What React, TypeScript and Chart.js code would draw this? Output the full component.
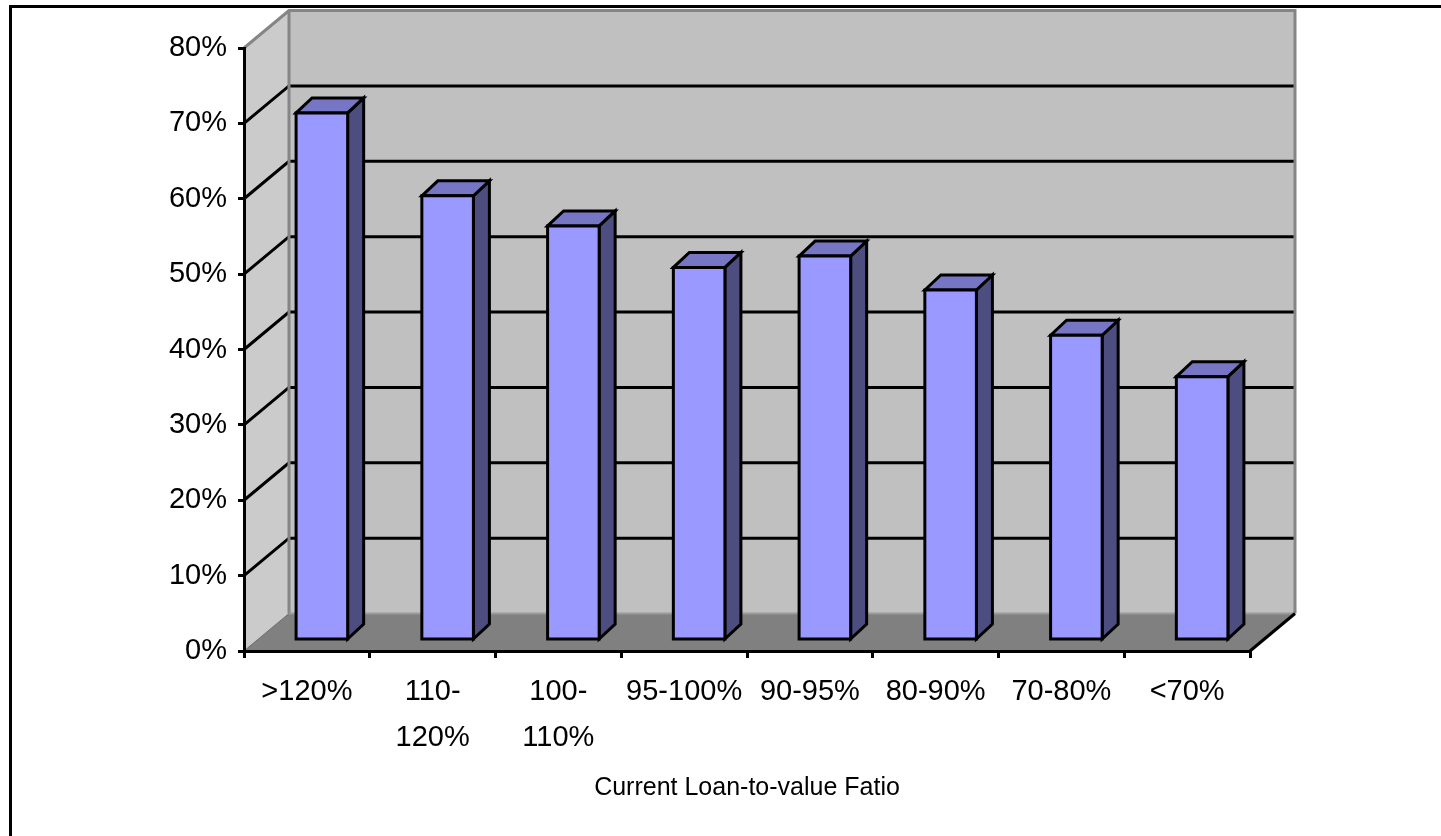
import React, { useEffect, useRef } from "react";
import { Chart, registerables } from "chart.js";

Chart.register(...registerables);

const categories: (string | string[])[] = [">120%", ["110-", "120%"], ["100-", "110%"], "95-100%", "90-95%", "80-90%", "70-80%", "<70%"];
const shareValues = [70, 59, 55, 49.5, 51, 46.5, 40.5, 35];
const yMin = 0;
const yMax = 80;
const yStep = 10;
const axisTitle = "Current Loan-to-value Fatio";

const FONT = "'Liberation Sans', Arial, sans-serif";

// projection of the 3D box
const DX = 45;
const DY = -37.5;
const BAR_SHIFT_X = 15;
const BAR_SHIFT_Y = -10.5;
const BDX = 16;
const BDY = -15;
const LW = 3;

const threeD = {
  id: "threeD",
  beforeDraw(chart: any) {
    const { ctx, chartArea } = chart;
    const ys = chart.scales.y;
    const L = chartArea.left;
    const R = chartArea.right;
    const y0 = ys.getPixelForValue(yMin);
    const yT = ys.getPixelForValue(yMax);
    ctx.save();
    // outer frame
    ctx.strokeStyle = "#000";
    ctx.lineWidth = 3;
    ctx.beginPath();
    ctx.moveTo(10.5, chart.height + 5);
    ctx.lineTo(10.5, 6.5);
    ctx.lineTo(chart.width + 5, 6.5);
    ctx.stroke();

    // side wall
    ctx.fillStyle = "#cbcbcb";
    ctx.beginPath();
    ctx.moveTo(L, y0);
    ctx.lineTo(L + DX, y0 + DY);
    ctx.lineTo(L + DX, yT + DY);
    ctx.lineTo(L, yT);
    ctx.closePath();
    ctx.fill();
    // back wall
    ctx.fillStyle = "#c0c0c0";
    ctx.fillRect(L + DX, yT + DY, R - L, y0 - yT);
    // floor
    ctx.fillStyle = "#808080";
    ctx.beginPath();
    ctx.moveTo(L, y0);
    ctx.lineTo(R, y0);
    ctx.lineTo(R + DX, y0 + DY);
    ctx.lineTo(L + DX, y0 + DY);
    ctx.closePath();
    ctx.fill();

    // gridlines
    ctx.strokeStyle = "#000";
    ctx.lineWidth = LW;
    for (let v = yMin + yStep; v < yMax; v += yStep) {
      const yy = ys.getPixelForValue(v);
      ctx.beginPath();
      ctx.moveTo(L, yy);
      ctx.lineTo(L + DX, yy + DY);
      ctx.lineTo(R + DX, yy + DY);
      ctx.stroke();
    }
    // wall edges
    ctx.strokeStyle = "#858585";
    ctx.lineWidth = 3;
    ctx.beginPath();
    ctx.moveTo(L, yT);
    ctx.lineTo(L + DX, yT + DY);
    ctx.lineTo(R + DX, yT + DY);
    ctx.lineTo(R + DX, y0 + DY);
    ctx.stroke();
    ctx.beginPath();
    ctx.moveTo(L + DX, yT + DY);
    ctx.lineTo(L + DX, y0 + DY);
    ctx.stroke();
    ctx.strokeStyle = "#9a9a9a";
    ctx.lineWidth = 2;
    ctx.beginPath();
    ctx.moveTo(L + DX, y0 + DY);
    ctx.lineTo(R + DX, y0 + DY);
    ctx.stroke();
    ctx.strokeStyle = "#6a6a6a";
    ctx.lineWidth = 1;
    ctx.beginPath();
    ctx.moveTo(L, y0);
    ctx.lineTo(L + DX, y0 + DY);
    ctx.stroke();
    // floor right edge
    ctx.strokeStyle = "#000";
    ctx.lineWidth = LW;
    ctx.beginPath();
    ctx.moveTo(R, y0);
    ctx.lineTo(R + DX, y0 + DY);
    ctx.stroke();
    ctx.restore();
  },
  afterDatasetsDraw(chart: any) {
    const { ctx } = chart;
    const meta = chart.getDatasetMeta(0);
    ctx.save();
    ctx.lineWidth = LW;
    ctx.strokeStyle = "#000";
    ctx.lineJoin = "miter";
    meta.data.forEach((el: any) => {
      const { x, y, base, width } = el.getProps(["x", "y", "base", "width"], true);
      const l = x - width / 2 + BAR_SHIFT_X;
      const r = x + width / 2 + BAR_SHIFT_X;
      const t = y + BAR_SHIFT_Y;
      const b = base + BAR_SHIFT_Y;
      // side face
      ctx.fillStyle = "#4d4d80";
      ctx.beginPath();
      ctx.moveTo(r, b);
      ctx.lineTo(r + BDX, b + BDY);
      ctx.lineTo(r + BDX, t + BDY);
      ctx.lineTo(r, t);
      ctx.closePath();
      ctx.fill();
      ctx.stroke();
      // top face
      ctx.fillStyle = "#7676c4";
      ctx.beginPath();
      ctx.moveTo(l, t);
      ctx.lineTo(l + BDX, t + BDY);
      ctx.lineTo(r + BDX, t + BDY);
      ctx.lineTo(r, t);
      ctx.closePath();
      ctx.fill();
      ctx.stroke();
      // front face
      ctx.fillStyle = "#9999ff";
      ctx.beginPath();
      ctx.rect(l, t, r - l, b - t);
      ctx.fill();
      ctx.stroke();
    });
    ctx.restore();
  },
};

export default function App() {
  const ref = useRef<HTMLCanvasElement | null>(null);
  useEffect(() => {
    if (!ref.current) return;
    const chart = new Chart(ref.current, {
      type: "bar",
      data: {
        labels: categories as any,
        datasets: [
          {
            data: shareValues,
            backgroundColor: "rgba(0,0,0,0)",
            borderWidth: 0,
            barPercentage: 0.41,
            categoryPercentage: 1,
          },
        ],
      },
      options: {
        animation: false,
        responsive: false,
        devicePixelRatio: 1,
        layout: { padding: { left: 14, right: 191, top: 48, bottom: 33 } },
        plugins: { legend: { display: false }, tooltip: { enabled: false } },
        scales: {
          x: {
            afterFit: (s: any) => {
              s.height = 152;
            },
            grid: { drawOnChartArea: false, drawTicks: true, tickLength: 7, color: "#000", lineWidth: LW },
            border: { display: true, color: "#000", width: LW },
            ticks: {
              color: "#000",
              font: { family: FONT, size: 29, lineHeight: "46px" },
              padding: 11,
              maxRotation: 0,
              autoSkip: false,
            },
            title: {
              display: true,
              text: axisTitle,
              color: "#000",
              font: { family: FONT, size: 25, lineHeight: 1.2 },
              padding: { top: 0, bottom: 0 },
            },
          },
          y: {
            min: yMin,
            max: yMax,
            afterFit: (s: any) => {
              s.width = 230;
            },
            grid: { drawOnChartArea: false, drawTicks: true, tickLength: 6, color: "#000", lineWidth: LW },
            border: { display: true, color: "#000", width: LW },
            ticks: {
              stepSize: yStep,
              color: "#000",
              padding: 11,
              font: { family: FONT, size: 29 },
              callback: (v: any) => `${v}%`,
            },
          },
        },
      },
      plugins: [threeD],
    });
    return () => chart.destroy();
  }, []);
  return (
    <div style={{ position: "fixed", left: 0, top: 0, width: 1441, height: 836, background: "#fff" }}>
      <canvas ref={ref} width={1441} height={836} style={{ display: "block" }} />
    </div>
  );
}
